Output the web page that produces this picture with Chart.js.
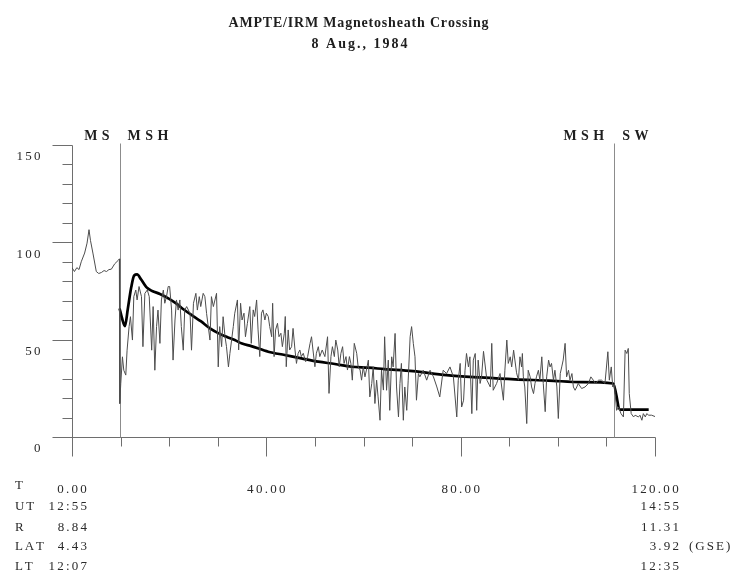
<!DOCTYPE html>
<html>
<head>
<meta charset="utf-8">
<title>AMPTE/IRM Magnetosheath Crossing</title>
<script src="https://cdn.jsdelivr.net/npm/chart.js@4.4.1/dist/chart.umd.min.js"></script>
<style>
  html, body { margin: 0; padding: 0; background: #ffffff; }
  canvas { display: block; }
</style>
</head>
<body>
<canvas id="chart" width="740" height="572"></canvas>
<script>
// Elapsed time T (minutes after 12:55 UT) and field magnitude |B| (nT)
const timeMin = [
  0.0, 0.5, 1.0, 1.45, 1.9, 2.6, 3.1, 3.5, 3.8, 4.3, 5.0, 5.5, 6.05, 6.6, 7.1, 7.6, 8.1, 8.8, 9.5, 9.75,
  9.83, 10.04, 10.38, 10.66, 11.07, 11.34, 11.75, 12.03, 12.44, 12.72, 13.13, 13.4, 13.8, 14.3, 14.6, 15.0,
  15.5, 15.9, 16.4, 16.7, 17.05, 17.4, 17.7, 18.1, 18.4, 18.8, 19.1, 19.45, 19.8, 20.1, 20.5, 20.8, 21.2,
  21.5, 21.85, 22.2, 22.5, 22.9, 23.2, 23.6, 24.3, 24.6, 25.0, 25.5, 25.8, 26.2, 26.5, 27.0, 27.35, 27.7,
  28.4, 28.7, 29.1, 29.75, 30.1, 30.4, 30.8, 31.1, 31.5, 31.8, 32.2, 32.5, 33.2,
  33.5, 34.05, 34.3, 34.7, 35.0, 35.4, 35.7, 36.1, 36.6, 36.9, 37.3, 37.6, 38.0, 38.3, 38.65, 39.0, 39.3,
  39.7, 40.0, 40.4, 40.7, 41.1, 41.3, 41.6, 41.9, 42.3, 42.6, 43.0, 43.3, 43.7, 43.9, 44.1, 44.5, 44.8,
  45.2, 45.5, 45.9, 46.2, 46.55, 46.9, 47.2, 47.6, 48.1, 48.5, 49.0, 49.3, 49.6, 50.0, 50.3, 50.7, 51.0,
  51.5, 52.05, 52.6, 52.9, 53.3, 53.6, 54.0, 54.3, 54.7, 55.0, 55.35, 55.7, 56.0, 56.4, 56.7, 57.1, 57.4,
  57.7, 58.1, 58.6, 58.9, 59.3, 59.6, 59.95, 60.3, 60.6, 61.0, 61.3, 61.7, 62.0, 62.35, 62.7, 63.0, 63.4,
  63.7, 64.1, 64.35,
  64.75, 65.1, 65.4, 65.8, 66.1, 66.5, 66.8, 67.2, 67.5, 67.8, 68.2, 68.5, 68.9, 69.2, 69.6, 69.9, 70.25,
  70.6, 70.9, 71.3, 71.6, 72.3, 73.0, 73.7, 74.4, 75.1, 75.7, 76.4, 77.1, 77.8, 78.5, 79.2, 79.5, 79.9,
  80.2, 80.6, 80.9, 81.2, 81.6, 81.9, 82.3, 82.6, 83.0, 83.3, 83.6, 84.0, 84.3, 84.7, 85.4, 86.1, 86.4,
  86.7, 87.4, 88.1, 88.8, 89.1, 89.5, 89.8, 90.2, 90.5, 90.9,
  91.5, 91.9, 92.2, 92.55, 92.7, 92.9, 93.2, 93.6, 93.9, 94.3, 94.6, 95.0, 95.3, 95.6, 96.0, 96.3, 96.7,
  97.0, 97.4, 97.7, 98.1, 98.4, 98.7, 99.1, 99.4, 99.8, 100.1, 100.5, 100.8, 101.1, 101.5, 101.8, 102.2,
  102.5, 102.9, 103.2, 103.55, 103.9, 104.2, 104.9, 105.6, 106.3, 106.8, 107.3, 107.7, 108.4, 109.0,
  109.7, 110.3, 110.6, 111.0, 111.3, 111.65, 111.8, 112.1, 112.5, 113.0, 113.5, 113.85, 114.2, 114.5,
  114.7, 115.1, 115.6, 115.9, 116.6, 116.9, 117.3, 117.6, 118.0, 118.3, 118.7, 119.3, 120.0
];
const fieldNT = [
  87, 85, 87, 86, 90, 94.5, 99.6, 106.5, 101, 94.5, 85, 84, 84.5, 85.5, 85, 86, 86.2, 89, 90.7, 91.5,
  17.2, 27.5, 41.2, 34.3, 31.8, 44.6, 56.7, 61.8, 49.8, 72.1, 75.5, 70.4, 77.3, 72.1, 46.4, 73.8,
  75.5, 72.1, 44.6, 67, 34.3, 56.7, 65.2, 48.1, 70.4, 75.5, 68.7, 72.1, 77.3, 77.3, 65.2, 39.5, 60.1,
  70.4, 65.2, 70.4, 56.7, 44.6, 65.2, 67, 63.5, 44.6, 68.7, 73.8, 65.2, 72.1, 67, 73.8, 72.1, 63.5,
  49.8, 72.1, 67, 73.8, 36, 56.7, 46.4, 61.8, 51.5, 46.4, 36, 42.9, 56.7,
  63.6, 70.4, 44.7, 68.7, 60.1, 63.6, 51.5, 58.4, 67, 48.1, 65.3, 61.9, 70.4, 55, 41.3, 63.6, 65.3,
  60.1, 63.6, 61.9, 56.7, 51.5, 68.7, 41.3, 55, 58.4, 51.5, 53.3, 46.4, 53.3, 61.9, 36.1, 55, 44.7,
  46.4, 55.8, 44.7, 37.8, 43, 44.7, 41.3, 43, 38.7, 41.3, 48.1, 51.5, 44.7, 36.1, 43, 46.4, 41.3,
  44.7, 41.3, 51.5, 22.4, 41.3, 46.4, 41.3, 49.8, 44.7, 36.1, 43, 46.4, 37.8, 41.3, 34.4, 41.3, 37.8,
  29.2, 48.1, 43, 36.1, 34.4, 29.2, 36.1, 30.9, 34.4, 39.5, 20.6, 27.5, 36.1, 17.2, 29.2, 20.6, 8.6,
  34.4, 24.1, 51.5,
  24, 39.5, 13.7, 41.2, 36, 53.2, 25.7, 10.3, 27.5, 37.8, 8.6, 25.7, 13.7, 29.2, 51.5, 56.7, 48.1,
  41.2, 18.9, 32.6, 30.9, 34.3, 29.2, 34.3, 30.9, 25.7, 20.6, 34.3, 32.6, 36, 30.9, 10.3, 29.2, 37.8,
  15.4, 18.9, 34.3, 42.9, 36, 41.2, 12, 39.5, 42.9, 13.7, 39.5, 27.5, 30.9, 44, 29.2, 25.7, 48.1,
  24, 27.5, 32.6, 18.9, 34.3, 49.8, 37.8, 41.2, 36, 44.6,
  33, 29.2, 41.2, 36, 42.9, 30.9, 25.7, 6.9, 34.3, 30.9, 25.7, 22.3, 27.5, 30.9, 34.3, 29.2, 41.2,
  27.5, 13, 30.9, 39.5, 36, 37.8, 29.2, 34.3, 25.7, 9.5, 32.6, 36, 39.5, 48.1, 30.9, 34.3,
  29.2, 32.6, 25.7, 24, 25.7, 27.5, 24.9, 25.7, 27.5, 30.9, 29.2, 27.5, 29.2, 29.2,
  27.5, 43.8, 29.2, 36, 25.7, 27.5, 22.3, 13.7, 15.4, 12, 10.3, 44.6, 42.9, 45.5,
  22.3, 12, 10.3, 11.2, 10.3, 11.2, 8.6, 12, 10.3, 12, 11.2, 11.2, 10.5
];

// Smoothed field profile through the magnetosheath and into the solar wind
const fitTime  = [9.8, 10.3, 10.9, 11.5, 12.2, 12.8, 13.4, 14.2, 15.3, 16.5, 18.1, 20.0, 21.5, 23.0,
                  25.0, 26.5, 28.4, 30.0, 31.8, 33.5, 35.0, 36.9, 40.4, 43.8, 47.2, 50.7, 54.1, 57.5,
                  61.0, 64.3, 70.2, 77.1, 84.0, 91.2, 98.1, 104.9, 111.4, 112.8, 118.7];
const fitField = [66, 61, 57, 66, 77, 83, 83.5, 81, 77, 75, 73.5, 71, 68.5, 65.5,
                  62, 59.5, 55.8, 53.5, 51.5, 49.8, 48, 46.7, 43.8, 42.1, 40.4, 38.7, 37.5, 36.1,
                  35.6, 34.9, 33.8, 31.8, 30.6, 29.6, 29.0, 28.2, 27.5, 14.1, 14.1];

// Boundary crossings (minutes) and the regions on either side
const crossingTime = [9.8, 111.6];
const regionBefore = ["MS", "MSH"];
const regionAfter  = ["MSH", "SW"];

// Axis labelling
const yLabelValues = [0, 50, 100, 150];
const xLabelValues = [0, 40, 80, 120];
const xLabelText   = ["0.00", "40.00", "80.00", "120.00"];

// Orbit parameters at start and end of the interval
const orbitNames = ["UT", "R", "LAT", "LT"];
const orbitStart = ["12:55", "8.84", "4.43", "12:07"];
const orbitEnd   = ["14:55", "11.31", "3.92", "12:35"];

const titleLines = ["AMPTE/IRM Magnetosheath Crossing", "8 Aug., 1984"];

const SERIF = '"Liberation Serif", "DejaVu Serif", serif';

function charWidths(ctx, text) {
  return [...text].map(c => ctx.measureText(c).width);
}
// Draw text with extra spacing between letters
function spaced(ctx, text, x, y, gap, align) {
  const chars = [...text];
  const w = charWidths(ctx, text);
  const total = w.reduce((a, b) => a + b, 0) + gap * (chars.length - 1);
  let sx = align === 'right' ? x - total : align === 'center' ? x - total / 2 : x;
  ctx.textAlign = 'left';
  chars.forEach((c, i) => { ctx.fillText(c, sx, y); sx += w[i] + gap; });
}
// Spread text evenly over a given width, centred on cx
function fitted(ctx, text, cx, y, width) {
  const w = charWidths(ctx, text);
  const natural = w.reduce((a, b) => a + b, 0);
  const gap = (width - natural) / (w.length - 1);
  spaced(ctx, text, cx, y, gap, 'center');
}

const framePlugin = {
  id: 'plotFrame',
  beforeDatasetsDraw(chart) {
    const { ctx, scales: { x, y } } = chart;
    const ax = Math.round(x.getPixelForValue(0)) + 0.5;
    const xEnd = x.getPixelForValue(120);
    const ay = Math.round(y.getPixelForValue(0)) + 0.5;
    const yTop = Math.round(y.getPixelForValue(150)) + 0.5;
    ctx.save();
    ctx.strokeStyle = '#6e6e6e';
    ctx.lineWidth = 1;
    ctx.beginPath();
    ctx.moveTo(ax, yTop);
    ctx.lineTo(ax, ay + 19);
    ctx.moveTo(ax - 20, ay);
    ctx.lineTo(xEnd + 0.5, ay);
    for (let v = 10; v <= 150; v += 10) {
      const py = Math.round(y.getPixelForValue(v)) + 0.5;
      const len = v % 50 === 0 ? 20 : 10;
      ctx.moveTo(ax - len, py);
      ctx.lineTo(ax, py);
    }
    for (let t = 10; t <= 120; t += 10) {
      const px = Math.round(x.getPixelForValue(t)) + 0.5;
      const len = t % 40 === 0 ? 19 : 9;
      ctx.moveTo(px, ay);
      ctx.lineTo(px, ay + len);
    }
    ctx.stroke();

    ctx.strokeStyle = '#8c8c8c';
    ctx.beginPath();
    crossingTime.forEach(t => {
      const px = Math.round(x.getPixelForValue(t)) + 0.5;
      ctx.moveTo(px, yTop - 2);
      ctx.lineTo(px, ay);
    });
    ctx.stroke();
    ctx.restore();
  },
  afterDraw(chart) {
    const { ctx, scales: { x, y } } = chart;
    ctx.save();
    ctx.textBaseline = 'alphabetic';
    ctx.fillStyle = '#1e1e1e';

    ctx.font = 'bold 14px ' + SERIF;
    fitted(ctx, titleLines[0], 358.5, 27, 260);
    fitted(ctx, titleLines[1], 359.5, 48, 96);

    crossingTime.forEach((t, i) => {
      const px = x.getPixelForValue(t);
      spaced(ctx, regionBefore[i], px - 10, 140, 4.4, 'right');
      spaced(ctx, regionAfter[i], px + 8, 140, 4.4, 'left');
    });

    ctx.font = '13px ' + SERIF;
    ctx.fillStyle = '#2a2a2a';
    const ax = x.getPixelForValue(0);
    yLabelValues.forEach(v => {
      spaced(ctx, String(v), ax - 31.5, y.getPixelForValue(v) + 15.4, 2.3, 'right');
    });

    spaced(ctx, 'T', 15, 488.5, 0, 'left');
    xLabelValues.forEach((t, i) => {
      spaced(ctx, xLabelText[i], x.getPixelForValue(t), 492.5, 2.3, 'center');
    });

    const rowBase = [510, 530.5, 550, 569.5];
    orbitNames.forEach((name, i) => {
      spaced(ctx, name, 15, rowBase[i], 1.8, 'left');
      spaced(ctx, orbitStart[i], 87, rowBase[i], 2.2, 'right');
      spaced(ctx, orbitEnd[i], 679, rowBase[i], 2.2, 'right');
    });
    spaced(ctx, '(GSE)', 689, rowBase[2], 2.0, 'left');
    ctx.restore();
  }
};

const noisyPoints = timeMin.map((t, i) => ({ x: t, y: fieldNT[i] }));
const fitPoints = fitTime.map((t, i) => ({ x: t, y: fitField[i] }));

new Chart(document.getElementById('chart'), {
  type: 'line',
  data: {
    datasets: [
      {
        label: '|B|',
        data: noisyPoints,
        borderColor: '#4d4d4d',
        borderWidth: 1,
        pointRadius: 0,
        tension: 0,
        fill: false
      },
      {
        label: 'profile',
        data: fitPoints,
        borderColor: '#000000',
        borderWidth: 2.7,
        pointRadius: 0,
        cubicInterpolationMode: 'monotone',
        fill: false
      }
    ]
  },
  options: {
    responsive: false,
    devicePixelRatio: 1,
    animation: false,
    layout: { padding: { left: 72, right: 85, top: 145, bottom: 135 } },
    scales: {
      x: { type: 'linear', min: 0, max: 120, display: false },
      y: { type: 'linear', min: 0, max: 150, display: false }
    },
    plugins: {
      legend: { display: false },
      tooltip: { enabled: false },
      title: { display: false }
    }
  },
  plugins: [framePlugin]
});
</script>
</body>
</html>
